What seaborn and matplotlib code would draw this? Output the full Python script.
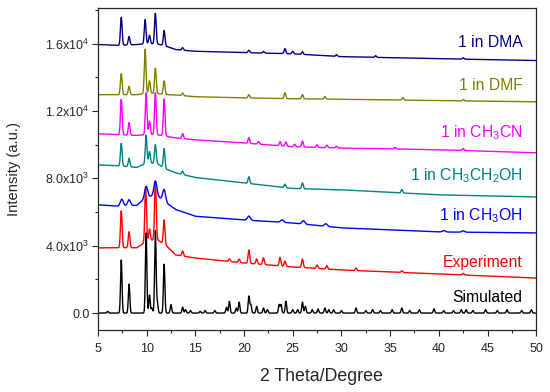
import numpy as np
import pandas as pd
import matplotlib
matplotlib.use("Agg")
import matplotlib.pyplot as plt
from matplotlib.ticker import MultipleLocator
import seaborn as sns

sns.set_style("ticks")
plt.rcParams['font.family'] = ['Liberation Sans', 'DejaVu Sans']
plt.rcParams['mathtext.default'] = 'regular'

# ---- data ----
two_theta = np.arange(5, 50.001, 0.02)

samples = ["Simulated", "Experiment", "1 in CH3OH", "1 in CH3CH2OH",
           "1 in CH3CN", "1 in DMF", "1 in DMA"]
labels = ["Simulated", "Experiment", r"1 in CH$_3$OH", r"1 in CH$_3$CH$_2$OH",
          r"1 in CH$_3$CN", "1 in DMF", "1 in DMA"]
colors = ["#000000", "#ff0000", "#0000ff", "#008080", "#ff00ff", "#808000", "#000080"]
label_y = [950, 3030, 5770, 8150, 10710, 13500, 16065]

# baseline anchors (2theta, intensity)
base_x = [5, 7, 9, 10, 11, 12, 13, 15, 20, 25, 30, 40, 50]
base_sim = [0, 0, 0, 0, 0, 0, 0, 0, 0, 0, 0, 0, 0]
base_exp = [3870, 3880, 3880, 4250, 4400, 4000, 3450, 3270, 2975, 2740, 2560, 2320, 2080]
base_meoh = [6430, 6350, 6400, 6900, 7000, 6550, 6150, 5750, 5530, 5350, 5060, 4820, 4760]
base_etoh = [8800, 8750, 8650, 8900, 8900, 8550, 8330, 8050, 7730, 7400, 7320, 7020, 6900]
base_mecn = [10650, 10600, 10550, 10600, 10600, 10500, 10400, 10290, 10100, 9880, 9800, 9700, 9520]
base_dmf = [12970, 12970, 12970, 13050, 13050, 12980, 12950, 12850, 12780, 12730, 12700, 12620, 12550]
base_dma = [15950, 15900, 15950, 16000, 16000, 15850, 15650, 15550, 15470, 15400, 15230, 15110, 15000]

# peaks: positions and heights above baseline
pk_sim_x = [6.0, 7.4, 8.2, 9.95, 10.3, 10.55, 10.9, 11.1, 11.8, 12.5, 13.7, 14.0, 14.5,
            15.5, 16.0, 17.0, 18.2, 18.5, 19.2, 19.5, 20.5, 20.7, 21.3, 22.0, 22.4,
            23.6, 23.8, 24.3, 25.0, 25.5, 26.0, 26.3, 27.0, 27.6, 28.3, 28.7, 29.2,
            30.0, 31.5, 32.5, 33.2, 34.0, 35.2, 36.2, 37.0, 38.0, 39.5, 40.5, 41.5,
            42.3, 42.8, 43.5, 44.8, 46.0, 47.0, 48.5, 49.5]
pk_sim_h = [100, 3150, 1720, 4800, 1070, 300, 4900, 600, 2900, 500, 350, 200, 150,
            100, 150, 150, 350, 700, 300, 650, 1000, 500, 400, 300, 200,
            500, 500, 700, 200, 200, 650, 400, 200, 250, 300, 200, 200,
            150, 300, 150, 200, 150, 200, 300, 150, 200, 250, 150, 150,
            200, 200, 150, 200, 150, 200, 150, 200]
pk_exp_x = [7.4, 8.2, 9.9, 10.3, 10.9, 11.8, 13.7, 18.5, 19.5, 20.5, 21.3, 22.0, 23.7,
            24.2, 26.0, 27.5, 28.5, 31.5, 36.2, 42.5]
pk_exp_h = [2190, 950, 3300, 700, 3450, 1450, 300, 150, 200, 800, 300, 400, 500,
            300, 500, 200, 200, 150, 100, 100]
pk_meoh_x = [7.45, 8.2, 9.95, 10.9, 11.8, 20.5, 23.9, 26.1, 28.4, 40.5, 42.5]
pk_meoh_h = [400, 350, 650, 850, 700, 250, 150, 200, 150, 80, 80]
pk_etoh_x = [7.4, 8.2, 9.95, 10.3, 10.9, 11.8, 13.7, 20.5, 24.2, 26.0, 36.2]
pk_etoh_h = [1350, 500, 1700, 700, 1100, 1150, 200, 400, 200, 350, 200]
pk_mecn_x = [7.4, 8.2, 9.95, 10.3, 10.9, 11.8, 13.7, 20.5, 21.5, 23.7, 24.3, 25.2,
             26.0, 27.5, 28.5, 29.5, 35.5, 42.5]
pk_mecn_h = [2100, 750, 2500, 800, 2500, 2200, 300, 350, 150, 250, 250, 150,
             350, 150, 150, 100, 100, 120]
pk_dmf_x = [7.4, 8.2, 9.85, 10.3, 10.9, 11.8, 13.7, 20.5, 24.2, 26.0, 28.3, 36.3, 42.5]
pk_dmf_h = [1250, 500, 2650, 750, 1500, 800, 150, 200, 350, 250, 150, 150, 80]
pk_dma_x = [7.4, 8.2, 9.85, 10.3, 10.9, 11.8, 13.7, 20.5, 22.0, 24.2, 25.0, 26.0,
            29.5, 33.5, 42.5]
pk_dma_h = [1650, 500, 1450, 500, 1800, 900, 150, 150, 100, 300, 150, 150,
            100, 100, 80]

bases = [base_sim, base_exp, base_meoh, base_etoh, base_mecn, base_dmf, base_dma]
peaks = [(pk_sim_x, pk_sim_h), (pk_exp_x, pk_exp_h), (pk_meoh_x, pk_meoh_h),
         (pk_etoh_x, pk_etoh_h), (pk_mecn_x, pk_mecn_h), (pk_dmf_x, pk_dmf_h),
         (pk_dma_x, pk_dma_h)]
widths = [0.075, 0.085, 0.15, 0.085, 0.085, 0.085, 0.085]


def pattern(base, pk, w):
    y = np.interp(two_theta, base_x, base)
    for c, h in zip(*pk):
        y = y + h * np.exp(-0.5 * ((two_theta - c) / w) ** 2)
    return y


frames = []
for name, base, pk, w in zip(samples, bases, peaks, widths):
    frames.append(pd.DataFrame({"2theta": two_theta,
                                "intensity": pattern(base, pk, w),
                                "sample": name}))
df = pd.concat(frames, ignore_index=True)

fig = plt.figure(figsize=(5.5, 3.92), dpi=100)
ax = fig.add_axes([0.178, 0.158, 0.797, 0.822])

sns.lineplot(data=df, x="2theta", y="intensity", hue="sample",
             hue_order=samples, palette=dict(zip(samples, colors)),
             estimator=None, sort=False, linewidth=1.0, legend=False, ax=ax)

for lab, col, yy in zip(labels, colors, label_y):
    ax.text(48.6, yy, lab, color=col, fontsize=11.3, ha="right", va="center")

ax.set_xlim(5, 50)
ax.set_ylim(-1010, 18130)
ax.xaxis.set_major_locator(MultipleLocator(5))
ax.xaxis.set_minor_locator(MultipleLocator(2.5))
ax.set_yticks([0, 4000, 8000, 12000, 16000])
ax.set_yticklabels(["0.0", r"4.0x10$^3$", r"8.0x10$^3$", r"1.2x10$^4$", r"1.6x10$^4$"])
ax.yaxis.set_minor_locator(MultipleLocator(2000))
ax.tick_params(axis="both", which="major", labelsize=9, direction="out", length=4, width=0.8)
ax.tick_params(axis="both", which="minor", direction="out", length=2.4, width=0.8)
ax.tick_params(axis="x", which="major", pad=5)
ax.tick_params(axis="y", which="major", pad=2)
for s in ax.spines.values():
    s.set_visible(True)
    s.set_linewidth(0.9)

ax.set_xlabel("2 Theta/Degree", fontsize=12.8)
ax.set_ylabel("Intensity (a.u.)", fontsize=10.6)
ax.xaxis.set_label_coords(0.511, -0.118)
ax.yaxis.set_label_coords(-0.176, 0.5)

fig.savefig("out.png", dpi=100)
